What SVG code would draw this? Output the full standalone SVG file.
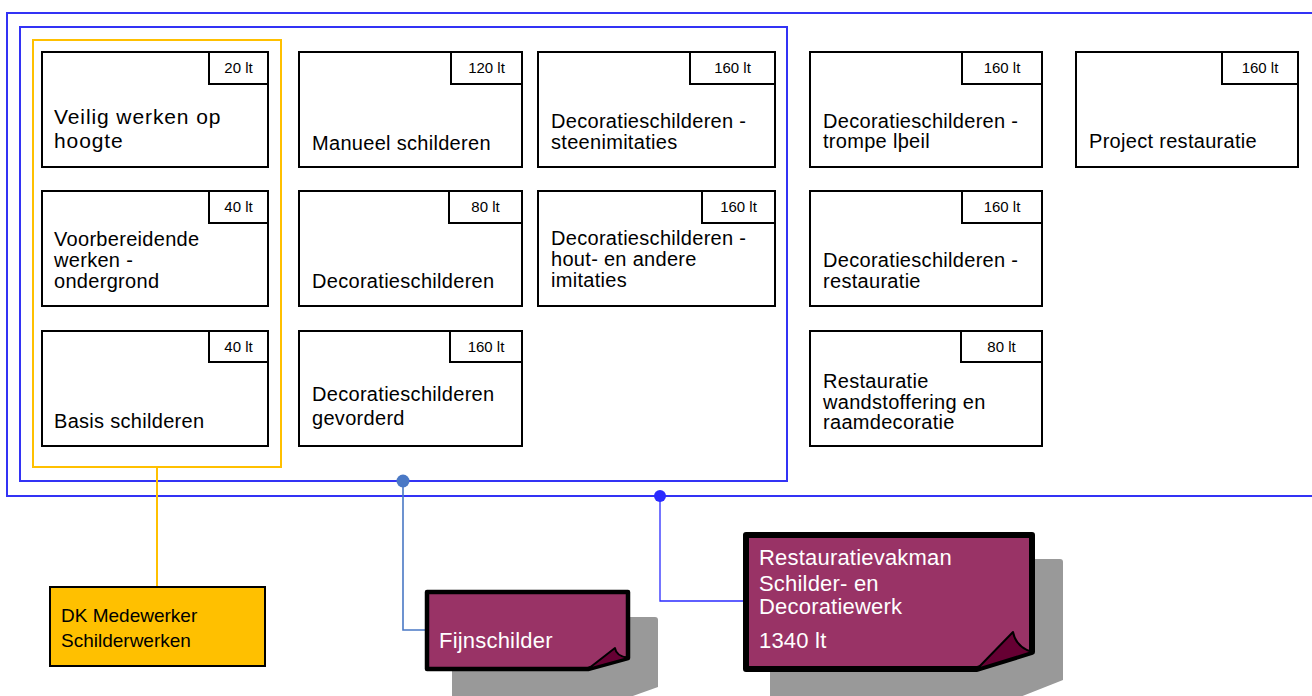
<svg xmlns="http://www.w3.org/2000/svg" width="1312" height="696" viewBox="0 0 1312 696">
<style>
.bg{fill:#ffffff}
.blue{fill:none;stroke:#3333f5;stroke-width:2}
.yel{fill:none;stroke:#ffc000;stroke-width:2}
.node{fill:#ffffff;stroke:#000000;stroke-width:2}
.tag{fill:#ffffff;stroke:#000000;stroke-width:2}
.tagt{font-family:"Liberation Sans",Arial,sans-serif;font-size:15px;fill:#000000;text-anchor:middle}
.t{font-family:"Liberation Sans",Arial,sans-serif;font-size:20px;letter-spacing:0.3px;fill:#000000}
.tb{font-family:"Liberation Sans",Arial,sans-serif;font-size:21px;letter-spacing:0.9px;fill:#000000}
.dk{font-family:"Liberation Sans",Arial,sans-serif;font-size:19px;fill:#000000}
.nt{font-family:"Liberation Sans",Arial,sans-serif;font-size:22px;letter-spacing:0.2px;fill:#ffffff}
.note{fill:#993366;stroke:#000000;stroke-linejoin:round}
.curl{fill:#660033;stroke:#000000;stroke-width:2;stroke-linejoin:round}
.shadow{fill:#999999}
</style>
<rect class="bg" x="0" y="0" width="1312" height="696"/>

<g id="container-outer">
<rect class="blue" x="7" y="13" width="1320" height="483"/>
</g>
<g id="container-inner">
<rect class="blue" x="20" y="27" width="767" height="454"/>
</g>
<g id="group-yellow">
<rect class="yel" x="33" y="40" width="248" height="427"/>
</g>

<g id="n-veilig">
<rect class="node" x="42" y="52" width="226" height="115"/>
<rect class="tag" x="209" y="52" width="59" height="32"/>
<text class="tagt" x="238.5" y="73">20 lt</text>
<text class="tb" x="54" y="124">Veilig werken op</text>
<text class="tb" x="54" y="148">hoogte</text>
</g>
<g id="n-voorbereidend">
<rect class="node" x="42" y="191" width="226" height="115"/>
<rect class="tag" x="209" y="191" width="59" height="32"/>
<text class="tagt" x="238.5" y="212">40 lt</text>
<text class="t" x="54" y="246">Voorbereidende</text>
<text class="t" x="54" y="267">werken -</text>
<text class="t" x="54" y="288">ondergrond</text>
</g>
<g id="n-basis">
<rect class="node" x="42" y="331" width="226" height="115"/>
<rect class="tag" x="209" y="331" width="59" height="31"/>
<text class="tagt" x="238.5" y="352">40 lt</text>
<text class="t" x="54" y="428">Basis schilderen</text>
</g>

<g id="n-manueel">
<rect class="node" x="299" y="52" width="223" height="115"/>
<rect class="tag" x="451" y="52" width="71" height="32"/>
<text class="tagt" x="486.5" y="73">120 lt</text>
<text class="t" x="312" y="150">Manueel schilderen</text>
</g>
<g id="n-decoratie">
<rect class="node" x="299" y="191" width="223" height="115"/>
<rect class="tag" x="449" y="191" width="73" height="32"/>
<text class="tagt" x="485.5" y="212">80 lt</text>
<text class="t" x="312" y="288">Decoratieschilderen</text>
</g>
<g id="n-gevorderd">
<rect class="node" x="299" y="331" width="223" height="115"/>
<rect class="tag" x="450" y="331" width="72" height="31"/>
<text class="tagt" x="486" y="352">160 lt</text>
<text class="t" x="312" y="401">Decoratieschilderen</text>
<text class="t" x="312" y="425">gevorderd</text>
</g>

<g id="n-steen">
<rect class="node" x="538" y="52" width="237" height="115"/>
<rect class="tag" x="690" y="52" width="85" height="32"/>
<text class="tagt" x="732.5" y="73">160 lt</text>
<text class="t" x="551" y="128">Decoratieschilderen -</text>
<text class="t" x="551" y="149">steenimitaties</text>
</g>
<g id="n-hout">
<rect class="node" x="538" y="191" width="237" height="115"/>
<rect class="tag" x="702" y="191" width="73" height="32"/>
<text class="tagt" x="738.5" y="212">160 lt</text>
<text class="t" x="551" y="245">Decoratieschilderen -</text>
<text class="t" x="551" y="266">hout- en andere</text>
<text class="t" x="551" y="287">imitaties</text>
</g>

<g id="n-trompe">
<rect class="node" x="810" y="52" width="232" height="115"/>
<rect class="tag" x="962" y="52" width="80" height="32"/>
<text class="tagt" x="1002" y="73">160 lt</text>
<text class="t" x="823" y="128">Decoratieschilderen -</text>
<text class="t" x="823" y="148">trompe lþeil</text>
</g>
<g id="n-restauratie">
<rect class="node" x="810" y="191" width="232" height="115"/>
<rect class="tag" x="962" y="191" width="80" height="32"/>
<text class="tagt" x="1002" y="212">160 lt</text>
<text class="t" x="823" y="267">Decoratieschilderen -</text>
<text class="t" x="823" y="288">restauratie</text>
</g>
<g id="n-wandstoffering">
<rect class="node" x="810" y="331" width="232" height="115"/>
<rect class="tag" x="961" y="331" width="81" height="31"/>
<text class="tagt" x="1001.5" y="352">80 lt</text>
<text class="t" x="823" y="388">Restauratie</text>
<text class="t" x="823" y="409">wandstoffering en</text>
<text class="t" x="823" y="429">raamdecoratie</text>
</g>

<g id="n-project">
<rect class="node" x="1076" y="52" width="222" height="115"/>
<rect class="tag" x="1222" y="52" width="76" height="32"/>
<text class="tagt" x="1260" y="73">160 lt</text>
<text class="t" x="1089" y="148">Project restauratie</text>
</g>

<g id="connectors">
<line x1="157" y1="467" x2="157" y2="587" stroke="#ffc000" stroke-width="2"/>
<polyline points="403,481 403,630 427,630" fill="none" stroke="#4a78c5" stroke-width="1.6"/>
<circle cx="403" cy="481" r="6.5" fill="#4a78c5"/>
<polyline points="660,496 660,601 745,601" fill="none" stroke="#2b2bff" stroke-width="1.3"/>
<circle cx="660" cy="496" r="6" fill="#2b2bff"/>
</g>

<g id="n-dk">
<rect x="50" y="587" width="215" height="79" fill="#ffc000" stroke="#000000" stroke-width="2"/>
<text class="dk" x="61" y="622">DK Medewerker</text>
<text class="dk" x="61" y="647">Schilderwerken</text>
</g>

<g id="n-fijnschilder">
<path class="shadow" d="M452,617 H655 Q658,617 658,620 V687 L630,697 H452 Z"/>
<path class="note" stroke-width="4.5" d="M427,592 H628 V658 L588,669 H427 Z"/>
<path class="curl" d="M588,669 L615,648 Q616,656 628,658 Z"/>
<text class="nt" x="439" y="648">Fijnschilder</text>
</g>

<g id="n-restauratievakman">
<path class="shadow" d="M770,559 H1060 Q1063,559 1063,562 V680 L1020,697 H770 Z"/>
<path class="note" stroke-width="6" d="M746,535 H1032 V652 L977,669 H746 Z"/>
<path class="curl" d="M977,669 L1013,632 Q1016,647 1032,652 Z"/>
<text class="nt" x="759" y="565">Restauratievakman</text>
<text class="nt" x="759" y="591">Schilder- en</text>
<text class="nt" x="759" y="614">Decoratiewerk</text>
<text class="nt" x="759" y="648">1340 lt</text>
</g>
</svg>
